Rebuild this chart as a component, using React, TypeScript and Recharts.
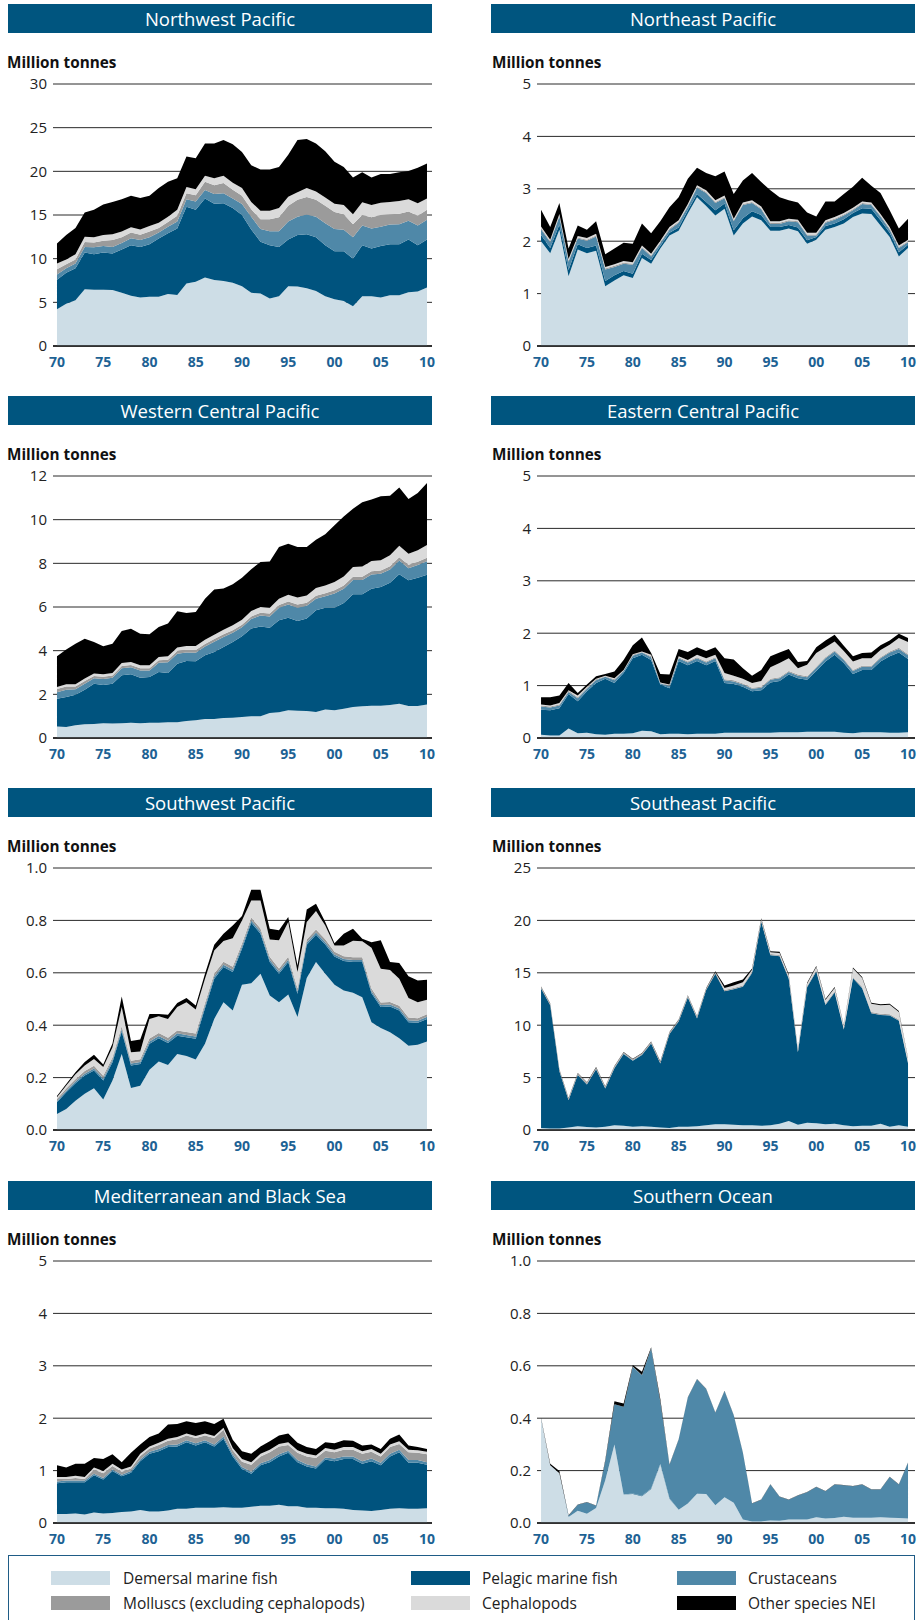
import { AreaChart, Area, XAxis, YAxis, CartesianGrid } from 'recharts';

const years = [
  1970, 1971, 1972, 1973, 1974, 1975, 1976, 1977, 1978, 1979,
  1980, 1981, 1982, 1983, 1984, 1985, 1986, 1987, 1988, 1989,
  1990, 1991, 1992, 1993, 1994, 1995, 1996, 1997, 1998, 1999,
  2000, 2001, 2002, 2003, 2004, 2005, 2006, 2007, 2008, 2009, 2010,
];
const xTicks = [1970, 1975, 1980, 1985, 1990, 1995, 2000, 2005, 2010];

const seriesKeys = ['demersal', 'pelagic', 'crustaceans', 'molluscs', 'cephalopods', 'other'];
const seriesNames = [
  'Demersal marine fish',
  'Pelagic marine fish',
  'Crustaceans',
  'Molluscs (excluding cephalopods)',
  'Cephalopods',
  'Other species NEI',
];
const seriesColors = ['#cddde6', '#00537e', '#4f88a8', '#9b9b9b', '#dadada', '#000000'];

// Northwest Pacific (million tonnes)
const nwpDemersal = [
  4.2, 4.85, 5.25, 6.5, 6.45, 6.45, 6.4, 6.1, 5.75, 5.55,
  5.65, 5.65, 5.95, 5.85, 7.15, 7.35, 7.85, 7.55, 7.45, 7.25,
  6.85, 6.1, 6.0, 5.45, 5.7, 6.85, 6.8, 6.6, 6.3, 5.7,
  5.35, 5.15, 4.55, 5.7, 5.7, 5.55, 5.8, 5.8, 6.15, 6.25, 6.7,
];
const nwpPelagic = [
  3.4, 3.55, 3.65, 4.2, 4.05, 4.25, 4.2, 4.95, 5.8, 5.8,
  6.0, 6.65, 6.95, 7.6, 8.8, 8.25, 9.05, 8.75, 8.9, 8.55,
  8.15, 7.25, 5.95, 6.1, 5.65, 5.35, 5.9, 6.2, 6.15, 5.85,
  5.5, 5.7, 5.45, 5.85, 5.45, 5.9, 5.85, 5.85, 6.05, 5.3, 5.5,
];
const nwpCrustaceans = [
  0.6, 0.5, 0.55, 0.65, 0.8, 0.75, 0.75, 0.75, 0.8, 0.8,
  0.8, 0.7, 0.75, 0.8, 0.85, 0.95, 0.95, 1.1, 1.15, 1.1,
  1.25, 1.45, 1.45, 1.6, 1.8, 2.05, 2.1, 2.25, 2.35, 2.5,
  2.55, 2.45, 2.45, 2.25, 2.3, 2.2, 2.25, 2.3, 2.15, 2.25, 2.25,
];
const nwpMolluscs = [
  0.6, 0.45, 0.45, 0.55, 0.55, 0.6, 0.8, 0.65, 0.65, 0.6,
  0.65, 0.5, 0.55, 0.65, 0.7, 0.7, 0.95, 1.0, 1.15, 1.0,
  0.95, 0.85, 1.1, 1.35, 1.6, 1.8, 1.95, 2.0, 1.95, 2.0,
  1.95, 1.8, 1.5, 1.2, 1.3, 1.35, 1.2, 1.2, 1.05, 1.1, 1.15,
];
const nwpCephalopods = [
  0.65, 0.55, 0.6, 0.6, 0.6, 0.65, 0.65, 0.65, 0.6, 0.6,
  0.65, 0.6, 0.6, 0.7, 0.7, 0.7, 0.7, 0.8, 0.85, 0.8,
  0.9, 0.85, 1.0, 1.0, 1.05, 1.05, 0.85, 1.05, 0.95, 0.95,
  0.95, 1.05, 1.15, 1.45, 1.4, 1.4, 1.4, 1.45, 1.4, 1.45, 1.3,
];
const nwpOther = [
  2.3, 2.8, 3.0, 2.8, 3.15, 3.5, 3.7, 3.7, 3.6, 3.6,
  3.45, 4.0, 4.0, 3.6, 3.5, 3.55, 3.7, 4.0, 4.1, 4.4,
  4.1, 4.2, 4.7, 4.7, 4.7, 4.8, 6.0, 5.6, 5.5, 5.3,
  4.8, 4.35, 4.2, 3.45, 3.15, 3.3, 3.2, 3.3, 3.25, 4.05, 4.0,
];

// Northeast Pacific
const nepDemersal = [
  2.0, 1.77, 2.22, 1.33, 1.84, 1.77, 1.82, 1.14, 1.25, 1.35,
  1.3, 1.68, 1.57, 1.86, 2.11, 2.2, 2.53, 2.84, 2.67, 2.49,
  2.62, 2.11, 2.34, 2.47, 2.4, 2.2, 2.2, 2.24, 2.19, 1.95,
  2.03, 2.22, 2.27, 2.34, 2.46, 2.53, 2.52, 2.3, 2.08, 1.71, 1.87,
];
const nepPelagic = [
  0.12, 0.1, 0.1, 0.12, 0.1, 0.1, 0.1, 0.1, 0.1, 0.08,
  0.08, 0.08, 0.07, 0.05, 0.05, 0.06, 0.06, 0.06, 0.08, 0.1,
  0.1, 0.1, 0.1, 0.1, 0.1, 0.07, 0.07, 0.07, 0.07, 0.07,
  0.05, 0.07, 0.07, 0.08, 0.08, 0.1, 0.1, 0.1, 0.08, 0.08, 0.06,
];
const nepCrustaceans = [
  0.11, 0.11, 0.15, 0.16, 0.11, 0.14, 0.17, 0.22, 0.16, 0.14,
  0.17, 0.11, 0.07, 0.05, 0.06, 0.09, 0.07, 0.12, 0.17, 0.14,
  0.1, 0.17, 0.25, 0.16, 0.11, 0.06, 0.06, 0.07, 0.1, 0.09,
  0.03, 0.06, 0.07, 0.07, 0.05, 0.08, 0.07, 0.07, 0.06, 0.08, 0.05,
];
const nepMolluscs = [
  0.02, 0.02, 0.02, 0.02, 0.02, 0.02, 0.02, 0.02, 0.02, 0.02,
  0.02, 0.02, 0.02, 0.02, 0.02, 0.02, 0.02, 0.02, 0.02, 0.02,
  0.02, 0.02, 0.02, 0.02, 0.02, 0.02, 0.02, 0.02, 0.02, 0.02,
  0.02, 0.02, 0.02, 0.02, 0.02, 0.02, 0.02, 0.02, 0.02, 0.02, 0.02,
];
const nepCephalopods = [
  0.03, 0.03, 0.03, 0.03, 0.03, 0.03, 0.03, 0.03, 0.03, 0.03,
  0.03, 0.03, 0.03, 0.03, 0.03, 0.03, 0.03, 0.03, 0.03, 0.03,
  0.03, 0.03, 0.03, 0.03, 0.03, 0.03, 0.03, 0.03, 0.03, 0.03,
  0.03, 0.03, 0.03, 0.03, 0.03, 0.03, 0.03, 0.03, 0.03, 0.03, 0.03,
];
const nepOther = [
  0.32, 0.24, 0.21, 0.2, 0.2, 0.16, 0.24, 0.24, 0.3, 0.35,
  0.35, 0.42, 0.39, 0.37, 0.38, 0.44, 0.48, 0.33, 0.33, 0.46,
  0.46, 0.47, 0.42, 0.52, 0.47, 0.59, 0.46, 0.35, 0.33, 0.39,
  0.31, 0.36, 0.3, 0.36, 0.4, 0.45, 0.32, 0.4, 0.32, 0.32, 0.4,
];

// Western Central Pacific
const wcpDemersal = [
  0.53, 0.5, 0.58, 0.63, 0.64, 0.67, 0.66, 0.67, 0.7, 0.67,
  0.7, 0.7, 0.72, 0.72, 0.78, 0.81, 0.87, 0.87, 0.92, 0.93,
  0.96, 1.0, 1.0, 1.15, 1.18, 1.27, 1.25, 1.24, 1.19, 1.31,
  1.27, 1.34, 1.42, 1.45, 1.48, 1.48, 1.51, 1.57, 1.47, 1.47, 1.54,
];
const wcpPelagic = [
  1.27, 1.38, 1.4, 1.58, 1.85, 1.76, 1.83, 2.2, 2.22, 2.09,
  2.09, 2.32, 2.26, 2.68, 2.75, 2.7, 2.92, 3.07, 3.25, 3.47,
  3.7, 4.01, 4.11, 3.9, 4.21, 4.24, 4.11, 4.23, 4.66, 4.66,
  4.7, 4.84, 5.16, 5.13, 5.36, 5.44, 5.6, 5.93, 5.75, 5.87, 5.94,
];
const wcpCrustaceans = [
  0.3, 0.33, 0.25, 0.28, 0.25, 0.27, 0.27, 0.33, 0.32, 0.33,
  0.3, 0.43, 0.49, 0.46, 0.39, 0.4, 0.4, 0.47, 0.46, 0.42,
  0.41, 0.44, 0.5, 0.52, 0.57, 0.6, 0.61, 0.59, 0.53, 0.52,
  0.65, 0.66, 0.66, 0.66, 0.65, 0.6, 0.61, 0.63, 0.56, 0.58, 0.62,
];
const wcpMolluscs = [
  0.14, 0.15, 0.13, 0.12, 0.1, 0.1, 0.1, 0.1, 0.1, 0.1,
  0.1, 0.11, 0.11, 0.12, 0.12, 0.12, 0.12, 0.12, 0.12, 0.12,
  0.12, 0.12, 0.13, 0.13, 0.13, 0.14, 0.14, 0.14, 0.14, 0.14,
  0.15, 0.15, 0.15, 0.15, 0.15, 0.15, 0.15, 0.15, 0.15, 0.15, 0.16,
];
const wcpCephalopods = [
  0.1, 0.1, 0.1, 0.11, 0.11, 0.12, 0.12, 0.14, 0.14, 0.14,
  0.14, 0.15, 0.16, 0.16, 0.17, 0.18, 0.19, 0.2, 0.21, 0.22,
  0.23, 0.25, 0.26, 0.27, 0.29, 0.31, 0.32, 0.33, 0.35, 0.36,
  0.38, 0.41, 0.44, 0.47, 0.47, 0.47, 0.5, 0.53, 0.51, 0.53, 0.58,
];
const wcpOther = [
  1.4, 1.59, 1.86, 1.83, 1.45, 1.28, 1.34, 1.46, 1.52, 1.45,
  1.42, 1.37, 1.5, 1.66, 1.52, 1.56, 1.88, 2.07, 1.89, 1.88,
  1.92, 1.91, 2.06, 2.11, 2.37, 2.34, 2.32, 2.22, 2.21, 2.34,
  2.59, 2.75, 2.67, 2.94, 2.81, 2.93, 2.73, 2.66, 2.51, 2.62, 2.84,
];

// Eastern Central Pacific
const ecpDemersal = [
  0.06, 0.05, 0.05, 0.18, 0.09, 0.1, 0.07, 0.06, 0.08, 0.08,
  0.09, 0.14, 0.13, 0.07, 0.08, 0.08, 0.07, 0.08, 0.08, 0.08,
  0.1, 0.1, 0.1, 0.1, 0.1, 0.1, 0.11, 0.11, 0.11, 0.12,
  0.12, 0.12, 0.12, 0.1, 0.09, 0.11, 0.11, 0.11, 0.1, 0.1, 0.11,
];
const ecpPelagic = [
  0.48, 0.48, 0.52, 0.66, 0.61, 0.79, 0.98, 1.07, 0.97, 1.16,
  1.43, 1.45, 1.36, 0.95, 0.87, 1.39, 1.32, 1.39, 1.31, 1.39,
  0.95, 0.93, 0.88, 0.79, 0.81, 0.96, 0.98, 1.1, 1.03, 0.99,
  1.16, 1.34, 1.47, 1.33, 1.13, 1.19, 1.19, 1.35, 1.46, 1.53, 1.4,
];
const ecpCrustaceans = [
  0.06, 0.05, 0.05, 0.04, 0.06, 0.05, 0.05, 0.04, 0.05, 0.04,
  0.05, 0.04, 0.05, 0.02, 0.04, 0.05, 0.05, 0.05, 0.05, 0.05,
  0.05, 0.05, 0.04, 0.05, 0.05, 0.05, 0.05, 0.05, 0.05, 0.05,
  0.06, 0.06, 0.06, 0.06, 0.06, 0.06, 0.06, 0.06, 0.07, 0.07, 0.07,
];
const ecpMolluscs = [
  0.02, 0.02, 0.02, 0.02, 0.02, 0.02, 0.02, 0.01, 0.02, 0.01,
  0.02, 0.01, 0.02, 0.01, 0.02, 0.02, 0.02, 0.02, 0.02, 0.02,
  0.02, 0.02, 0.02, 0.02, 0.02, 0.02, 0.02, 0.02, 0.02, 0.02,
  0.02, 0.02, 0.02, 0.02, 0.02, 0.02, 0.02, 0.02, 0.02, 0.02, 0.02,
];
const ecpCephalopods = [
  0.02, 0.02, 0.03, 0.01, 0.03, 0.02, 0.01, 0.01, 0.02, 0.01,
  0.01, 0.01, 0.03, 0.01, 0.01, 0.02, 0.03, 0.05, 0.06, 0.05,
  0.12, 0.09, 0.09, 0.09, 0.11, 0.22, 0.27, 0.24, 0.12, 0.22,
  0.26, 0.19, 0.17, 0.15, 0.16, 0.14, 0.14, 0.14, 0.13, 0.19, 0.23,
];
const ecpOther = [
  0.14, 0.16, 0.14, 0.14, 0.05, 0.04, 0.05, 0.03, 0.13, 0.19,
  0.17, 0.27, 0.03, 0.16, 0.19, 0.14, 0.15, 0.14, 0.14, 0.14,
  0.28, 0.31, 0.2, 0.14, 0.21, 0.21, 0.2, 0.18, 0.12, 0.07,
  0.11, 0.13, 0.13, 0.1, 0.1, 0.1, 0.11, 0.09, 0.08, 0.08, 0.08,
];

// Southwest Pacific
const swpDemersal = [
  0.061, 0.08, 0.112, 0.138, 0.159, 0.116, 0.189, 0.29, 0.16, 0.169,
  0.23, 0.261, 0.248, 0.29, 0.282, 0.269, 0.329, 0.424, 0.488, 0.456,
  0.554, 0.56, 0.596, 0.513, 0.488, 0.517, 0.431, 0.58, 0.641, 0.596,
  0.554, 0.532, 0.524, 0.507, 0.411, 0.389, 0.373, 0.35, 0.322, 0.325, 0.338,
];
const swpPelagic = [
  0.045, 0.064, 0.066, 0.07, 0.068, 0.073, 0.07, 0.086, 0.086, 0.083,
  0.099, 0.089, 0.084, 0.07, 0.072, 0.079, 0.136, 0.153, 0.134, 0.147,
  0.138, 0.231, 0.153, 0.128, 0.108, 0.124, 0.089, 0.127, 0.104, 0.112,
  0.108, 0.113, 0.117, 0.134, 0.111, 0.08, 0.098, 0.106, 0.089, 0.084, 0.086,
];
const swpCrustaceans = [
  0.005, 0.006, 0.007, 0.007, 0.008, 0.008, 0.008, 0.009, 0.008, 0.008,
  0.009, 0.009, 0.009, 0.009, 0.009, 0.009, 0.009, 0.009, 0.009, 0.009,
  0.009, 0.009, 0.009, 0.009, 0.009, 0.009, 0.009, 0.009, 0.009, 0.009,
  0.008, 0.008, 0.008, 0.008, 0.008, 0.008, 0.008, 0.008, 0.008, 0.008, 0.008,
];
const swpMolluscs = [
  0.007, 0.008, 0.009, 0.01, 0.01, 0.01, 0.01, 0.011, 0.01, 0.01,
  0.011, 0.011, 0.011, 0.011, 0.011, 0.011, 0.011, 0.011, 0.011, 0.011,
  0.011, 0.011, 0.011, 0.011, 0.011, 0.011, 0.011, 0.011, 0.011, 0.011,
  0.01, 0.01, 0.01, 0.01, 0.01, 0.01, 0.01, 0.01, 0.01, 0.01, 0.01,
];
const swpCephalopods = [
  0.007, 0.012, 0.019, 0.021, 0.026, 0.033, 0.039, 0.073, 0.033, 0.03,
  0.075, 0.064, 0.072, 0.089, 0.114, 0.092, 0.092, 0.088, 0.079, 0.109,
  0.088, 0.065, 0.107, 0.066, 0.108, 0.133, 0.063, 0.067, 0.071, 0.053,
  0.024, 0.041, 0.063, 0.061, 0.156, 0.128, 0.122, 0.103, 0.075, 0.061, 0.055,
];
const swpOther = [
  0.005, 0.006, 0.007, 0.014, 0.016, 0.01, 0.014, 0.041, 0.043, 0.045,
  0.019, 0.009, 0.016, 0.016, 0.016, 0.015, 0.019, 0.022, 0.028, 0.049,
  0.017, 0.041, 0.041, 0.041, 0.038, 0.019, 0.025, 0.048, 0.028, 0.013,
  0.009, 0.045, 0.046, 0.01, 0.021, 0.109, 0.03, 0.06, 0.083, 0.083, 0.076,
];

// Southeast Pacific
const sepDemersal = [
  0.2, 0.15, 0.15, 0.25, 0.35, 0.28, 0.25, 0.3, 0.45, 0.4,
  0.3, 0.35, 0.3, 0.25, 0.2, 0.3, 0.3, 0.35, 0.45, 0.55,
  0.55, 0.5, 0.45, 0.45, 0.4, 0.45, 0.6, 0.85, 0.5, 0.7,
  0.65, 0.55, 0.6, 0.45, 0.35, 0.4, 0.4, 0.6, 0.3, 0.45, 0.3,
];
const sepPelagic = [
  13.3, 11.75, 5.45, 2.6, 4.9, 4.07, 5.55, 3.67, 5.45, 6.85,
  6.3, 6.8, 7.95, 6.1, 8.95, 10.05, 12.35, 10.3, 12.9, 14.35,
  12.68, 12.93, 13.23, 14.53, 19.48, 16.23, 15.98, 13.58, 6.93, 12.93,
  14.48, 11.38, 12.53, 9.13, 14.13, 13.13, 10.73, 10.38, 10.63, 9.98, 6.08,
];
const sepCrustaceans = [
  0.02, 0.02, 0.02, 0.02, 0.02, 0.02, 0.02, 0.02, 0.02, 0.02,
  0.02, 0.02, 0.02, 0.02, 0.02, 0.02, 0.02, 0.02, 0.02, 0.02,
  0.02, 0.02, 0.02, 0.02, 0.02, 0.02, 0.02, 0.02, 0.02, 0.02,
  0.02, 0.02, 0.02, 0.02, 0.02, 0.02, 0.02, 0.02, 0.02, 0.02, 0.02,
];
const sepMolluscs = [
  0.1, 0.1, 0.1, 0.1, 0.1, 0.1, 0.1, 0.1, 0.1, 0.1,
  0.1, 0.1, 0.1, 0.1, 0.1, 0.1, 0.1, 0.1, 0.1, 0.1,
  0.1, 0.1, 0.1, 0.1, 0.1, 0.1, 0.1, 0.1, 0.1, 0.1,
  0.1, 0.1, 0.1, 0.1, 0.1, 0.1, 0.1, 0.1, 0.1, 0.1, 0.1,
];
const sepCephalopods = [
  0.03, 0.03, 0.03, 0.03, 0.03, 0.03, 0.03, 0.03, 0.03, 0.03,
  0.03, 0.03, 0.03, 0.03, 0.03, 0.03, 0.03, 0.03, 0.03, 0.03,
  0.2, 0.25, 0.3, 0.2, 0.1, 0.15, 0.2, 0.2, 0.1, 0.2,
  0.3, 0.35, 0.3, 0.3, 0.8, 0.85, 0.8, 0.8, 0.9, 0.7, 0.35,
];
const sepOther = [
  0.05, 0.05, 0.05, 0.05, 0.05, 0.05, 0.05, 0.05, 0.05, 0.05,
  0.05, 0.05, 0.05, 0.05, 0.05, 0.05, 0.05, 0.05, 0.05, 0.1,
  0.25, 0.3, 0.25, 0.1, 0.1, 0.1, 0.1, 0.1, 0.05, 0.1,
  0.1, 0.1, 0.1, 0.05, 0.1, 0.1, 0.1, 0.1, 0.1, 0.1, 0.05,
];

// Mediterranean and Black Sea
const medDemersal = [
  0.17, 0.17, 0.18, 0.16, 0.2, 0.18, 0.19, 0.21, 0.22, 0.25,
  0.22, 0.22, 0.24, 0.27, 0.27, 0.29, 0.29, 0.29, 0.3, 0.29,
  0.29, 0.31, 0.33, 0.33, 0.35, 0.32, 0.32, 0.29, 0.29, 0.28,
  0.28, 0.27, 0.25, 0.24, 0.23, 0.25, 0.27, 0.28, 0.27, 0.27, 0.28,
];
const medPelagic = [
  0.59, 0.61, 0.6, 0.62, 0.71, 0.65, 0.8, 0.68, 0.74, 0.93,
  1.1, 1.15, 1.21, 1.19, 1.27, 1.19, 1.25, 1.17, 1.31, 0.98,
  0.74, 0.63, 0.77, 0.83, 0.92, 1.02, 0.84, 0.79, 0.75, 0.93,
  0.9, 0.95, 0.97, 0.89, 0.95, 0.85, 1.0, 1.07, 0.88, 0.88, 0.83,
];
const medCrustaceans = [
  0.03, 0.03, 0.03, 0.03, 0.03, 0.03, 0.03, 0.03, 0.03, 0.03,
  0.04, 0.04, 0.04, 0.04, 0.04, 0.04, 0.04, 0.04, 0.04, 0.04,
  0.04, 0.04, 0.04, 0.04, 0.04, 0.04, 0.04, 0.04, 0.04, 0.04,
  0.05, 0.05, 0.05, 0.05, 0.05, 0.05, 0.05, 0.05, 0.05, 0.05, 0.05,
];
const medMolluscs = [
  0.05, 0.03, 0.05, 0.03, 0.08, 0.09, 0.07, 0.06, 0.05, 0.07,
  0.06, 0.08, 0.08, 0.1, 0.09, 0.1, 0.09, 0.12, 0.13, 0.08,
  0.1, 0.13, 0.13, 0.15, 0.15, 0.11, 0.14, 0.15, 0.16, 0.13,
  0.12, 0.13, 0.13, 0.14, 0.13, 0.12, 0.13, 0.11, 0.15, 0.14, 0.15,
];
const medCephalopods = [
  0.04, 0.04, 0.04, 0.04, 0.04, 0.04, 0.04, 0.04, 0.04, 0.04,
  0.04, 0.04, 0.04, 0.04, 0.04, 0.04, 0.04, 0.04, 0.04, 0.04,
  0.05, 0.05, 0.05, 0.05, 0.05, 0.05, 0.05, 0.05, 0.05, 0.05,
  0.05, 0.05, 0.05, 0.05, 0.05, 0.05, 0.05, 0.05, 0.05, 0.05, 0.05,
];
const medOther = [
  0.22, 0.18, 0.23, 0.25, 0.18, 0.23, 0.18, 0.14, 0.26, 0.18,
  0.18, 0.18, 0.27, 0.25, 0.23, 0.25, 0.23, 0.23, 0.17, 0.16,
  0.15, 0.16, 0.14, 0.16, 0.16, 0.17, 0.14, 0.13, 0.12, 0.11,
  0.12, 0.13, 0.12, 0.11, 0.09, 0.09, 0.11, 0.13, 0.08, 0.06, 0.05,
];

// Southern Ocean
const soDemersal = [
  0.4, 0.22, 0.19, 0.023, 0.047, 0.035, 0.057, 0.163, 0.3, 0.109,
  0.111, 0.102, 0.13, 0.224, 0.093, 0.051, 0.074, 0.112, 0.111, 0.068,
  0.098, 0.077, 0.013, 0.006, 0.006, 0.01, 0.009, 0.013, 0.013, 0.013,
  0.022, 0.017, 0.019, 0.024, 0.02, 0.02, 0.02, 0.022, 0.02, 0.019, 0.017,
];
const soPelagic = [
  0, 0, 0, 0, 0, 0, 0, 0, 0, 0,
  0.002, 0.002, 0.002, 0.002, 0.001, 0, 0, 0, 0, 0,
  0, 0, 0, 0, 0, 0, 0, 0, 0, 0,
  0, 0, 0, 0, 0, 0, 0, 0, 0, 0, 0,
];
const soCrustaceans = [
  0, 0, 0, 0.005, 0.023, 0.044, 0.009, 0.073, 0.153, 0.335,
  0.483, 0.46, 0.534, 0.236, 0.127, 0.268, 0.405, 0.437, 0.4, 0.353,
  0.406, 0.334, 0.255, 0.068, 0.083, 0.137, 0.091, 0.076, 0.092, 0.104,
  0.115, 0.104, 0.128, 0.12, 0.12, 0.127, 0.108, 0.106, 0.156, 0.128, 0.213,
];
const soMolluscs = [
  0, 0, 0, 0, 0, 0, 0, 0, 0, 0,
  0, 0, 0, 0, 0, 0, 0, 0, 0, 0,
  0, 0, 0, 0, 0, 0, 0, 0, 0, 0,
  0, 0, 0, 0, 0, 0, 0, 0, 0, 0, 0,
];
const soCephalopods = [
  0, 0, 0, 0, 0, 0, 0, 0, 0, 0,
  0.001, 0.001, 0.001, 0.001, 0, 0, 0, 0, 0, 0,
  0, 0, 0, 0, 0, 0, 0, 0, 0, 0,
  0, 0, 0, 0, 0, 0, 0, 0, 0, 0, 0,
];
const soOther = [
  0.003, 0.006, 0.008, 0.002, 0.001, 0.001, 0.001, 0.004, 0.012, 0.012,
  0.006, 0.012, 0.004, 0.01, 0.002, 0.001, 0.001, 0.001, 0.001, 0.001,
  0.001, 0.001, 0.001, 0.001, 0.001, 0.001, 0.001, 0.001, 0.001, 0.001,
  0.001, 0.001, 0.001, 0.001, 0.001, 0.001, 0.001, 0.001, 0.001, 0.001, 0.001,
];

const rowTops = [4, 396, 788, 1181];

const panels = [
  { title: 'Northwest Pacific', col: 0, row: 0, yMax: 30, yTicks: [0, 5, 10, 15, 20, 25, 30], decimals: 0,
    series: [nwpDemersal, nwpPelagic, nwpCrustaceans, nwpMolluscs, nwpCephalopods, nwpOther] },
  { title: 'Northeast Pacific', col: 1, row: 0, yMax: 5, yTicks: [0, 1, 2, 3, 4, 5], decimals: 0,
    series: [nepDemersal, nepPelagic, nepCrustaceans, nepMolluscs, nepCephalopods, nepOther] },
  { title: 'Western Central Pacific', col: 0, row: 1, yMax: 12, yTicks: [0, 2, 4, 6, 8, 10, 12], decimals: 0,
    series: [wcpDemersal, wcpPelagic, wcpCrustaceans, wcpMolluscs, wcpCephalopods, wcpOther] },
  { title: 'Eastern Central Pacific', col: 1, row: 1, yMax: 5, yTicks: [0, 1, 2, 3, 4, 5], decimals: 0,
    series: [ecpDemersal, ecpPelagic, ecpCrustaceans, ecpMolluscs, ecpCephalopods, ecpOther] },
  { title: 'Southwest Pacific', col: 0, row: 2, yMax: 1, yTicks: [0, 0.2, 0.4, 0.6, 0.8, 1], decimals: 1,
    series: [swpDemersal, swpPelagic, swpCrustaceans, swpMolluscs, swpCephalopods, swpOther] },
  { title: 'Southeast Pacific', col: 1, row: 2, yMax: 25, yTicks: [0, 5, 10, 15, 20, 25], decimals: 0,
    series: [sepDemersal, sepPelagic, sepCrustaceans, sepMolluscs, sepCephalopods, sepOther] },
  { title: 'Mediterranean and Black Sea', col: 0, row: 3, yMax: 5, yTicks: [0, 1, 2, 3, 4, 5], decimals: 0,
    series: [medDemersal, medPelagic, medCrustaceans, medMolluscs, medCephalopods, medOther] },
  { title: 'Southern Ocean', col: 1, row: 3, yMax: 1, yTicks: [0, 0.2, 0.4, 0.6, 0.8, 1], decimals: 1,
    series: [soDemersal, soPelagic, soCrustaceans, soMolluscs, soCephalopods, soOther] },
];

const FONT = '"Open Sans", "Noto Sans", sans-serif';
const TITLE_BG = '#00557f';
const TICK_BLUE = '#1d6294';

function buildRows(series: number[][]) {
  return years.map((year, i) => {
    const row: Record<string, number> = { year };
    seriesKeys.forEach((k, j) => {
      row[k] = series[j][i];
    });
    return row;
  });
}

function Panel({ p }: { p: (typeof panels)[number] }) {
  const top = rowTops[p.row];
  const isLeft = p.col === 0;
  const chartLeft = isLeft ? 0 : 480;
  const chartWidth = isLeft ? 440 : 437;
  const yAxisWidth = isLeft ? 53 : 57;
  const marginRight = isLeft ? 8 : 2;
  const xDomain = isLeft ? [1969.57, 2010.54] : [1969.56, 2010.76];
  const titleLeft = isLeft ? 8 : 491;
  const labelLeft = isLeft ? 7 : 492;
  const data = buildRows(p.series);

  return (
    <>
      <div
        style={{
          position: 'absolute',
          left: titleLeft,
          top,
          width: 424,
          height: 29,
          background: TITLE_BG,
          color: '#fff',
          fontSize: 18.5,
          lineHeight: '29px',
          textAlign: 'center',
        }}
      >
        {p.title}
      </div>
      <div
        style={{
          position: 'absolute',
          left: labelLeft,
          top: top + 48,
          fontSize: 15.3,
          fontWeight: 700,
          lineHeight: '20px',
          color: '#111',
        }}
      >
        Million tonnes
      </div>
      <div style={{ position: 'absolute', left: chartLeft, top: top + 70 }}>
        <AreaChart
          width={chartWidth}
          height={302}
          data={data}
          margin={{ top: 10, right: marginRight, bottom: 0, left: 0 }}
        >
          <CartesianGrid vertical={false} stroke="#2a2a2a" strokeWidth={1} />
          <XAxis
            dataKey="year"
            type="number"
            domain={xDomain}
            ticks={xTicks}
            interval={0}
            height={30}
            tickSize={0}
            tickMargin={11}
            axisLine={{ stroke: '#111', strokeWidth: 1.5 }}
            tickLine={false}
            tickFormatter={(v: number) => String(v % 100).padStart(2, '0')}
            tick={{ fontSize: 14, fontWeight: 700, fill: TICK_BLUE, fontFamily: FONT }}
          />
          <YAxis
            domain={[0, p.yMax]}
            ticks={p.yTicks}
            interval={0}
            width={yAxisWidth}
            tickSize={0}
            tickMargin={6}
            axisLine={false}
            tickLine={false}
            tickFormatter={(v: number) => v.toFixed(p.decimals)}
            tick={{ fontSize: 15, fill: '#222', fontFamily: FONT }}
          />
          {seriesKeys.map((k, j) => (
            <Area
              key={k}
              type="linear"
              dataKey={k}
              name={seriesNames[j]}
              stackId="a"
              stroke="none"
              fill={seriesColors[j]}
              fillOpacity={1}
              dot={false}
              activeDot={false}
              isAnimationActive={false}
            />
          ))}
          <YAxis
            yAxisId="right"
            orientation="right"
            mirror
            width={0}
            domain={[0, p.yMax]}
            ticks={p.yTicks}
            interval={0}
            tickSize={5}
            axisLine={false}
            tickLine={{ stroke: '#222' }}
            tick={false}
          />
        </AreaChart>
      </div>
    </>
  );
}

const legendCols = [
  { swatch: 51, text: 123 },
  { swatch: 411, text: 482 },
  { swatch: 677, text: 748 },
];
const legendRows = [1578, 1603];

function Legend() {
  return (
    <>
      <div
        style={{
          position: 'absolute',
          left: 8,
          top: 1555,
          width: 905,
          height: 80,
          border: '1px solid #1f5c86',
        }}
      />
      {seriesNames.map((name, i) => {
        const col = legendCols[i % 3];
        const cy = legendRows[Math.floor(i / 3)];
        return (
          <div key={name}>
            <div
              style={{
                position: 'absolute',
                left: col.swatch,
                top: cy - 7,
                width: 59,
                height: 14,
                background: seriesColors[i],
              }}
            />
            <div
              style={{
                position: 'absolute',
                left: col.text,
                top: cy - 11,
                fontSize: 15.5,
                lineHeight: '22px',
                color: '#222',
                whiteSpace: 'nowrap',
              }}
            >
              {name}
            </div>
          </div>
        );
      })}
    </>
  );
}

export default function App() {
  return (
    <div
      style={{
        position: 'absolute',
        left: 0,
        top: 0,
        width: 917,
        height: 1620,
        overflow: 'hidden',
        background: '#fff',
        fontFamily: FONT,
      }}
    >
      {panels.map((p) => (
        <Panel key={p.title} p={p} />
      ))}
      <Legend />
    </div>
  );
}
